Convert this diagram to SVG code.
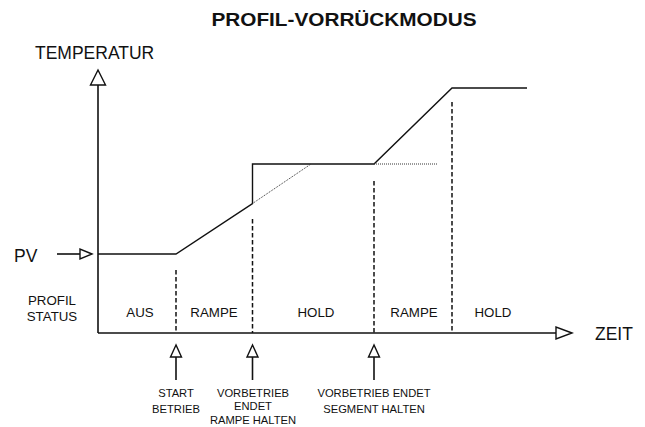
<svg xmlns="http://www.w3.org/2000/svg" width="645" height="427" viewBox="0 0 645 427">
<style>
text{font-family:"Liberation Sans",Arial,sans-serif;fill:#111}
.ax{stroke:#111;stroke-width:1.6;fill:none}
.pr{stroke:#111;stroke-width:1.4;fill:none}
.dot{stroke:#333;stroke-width:1;fill:none;stroke-dasharray:1 1}
.dash{stroke:#111;stroke-width:1.5;fill:none;stroke-dasharray:4.5 2.5}
.head{fill:#fff;stroke:#111;stroke-width:1.4}
.big{font-size:17.5px}
.st{font-size:13.3px;text-anchor:middle}
.ev{font-size:11.2px;text-anchor:middle}
</style>
<rect width="645" height="427" fill="#fff"/>
<text x="344" y="26" font-size="19" font-weight="bold" text-anchor="middle" textLength="265" lengthAdjust="spacingAndGlyphs">PROFIL-VORRÜCKMODUS</text>

<g id="axes">
<line class="ax" x1="98" y1="84" x2="98" y2="333"/>
<polygon class="head" points="98,70 90.5,85 105.5,85"/>
<line class="ax" x1="98" y1="333" x2="557" y2="333"/>
<polygon class="head" points="572,333 556,327 556,339"/>
<text class="big" x="35" y="59">TEMPERATUR</text>
<text class="big" x="595" y="340">ZEIT</text>
</g>

<g id="pv">
<text class="big" x="14" y="262">PV</text>
<line class="ax" x1="57" y1="254" x2="81" y2="254"/>
<polygon class="head" points="92,254 80,249 80,259"/>
</g>

<g id="profile">
<polyline class="pr" points="98,254 176,254 252.5,203.5 252.5,164 374,164 452,88 527,88"/>
<line class="dot" x1="252.5" y1="203.5" x2="311" y2="164"/>
<line class="dot" x1="374" y1="164" x2="437" y2="164"/>
</g>

<g id="dividers">
<line class="dash" x1="176" y1="270" x2="176" y2="333"/>
<line class="dash" x1="252.5" y1="219" x2="252.5" y2="333"/>
<line class="dash" x1="374" y1="181" x2="374" y2="333"/>
<line class="dash" x1="452" y1="102" x2="452" y2="333"/>
</g>

<g id="status">
<text class="st" x="52" y="305">PROFIL</text>
<text class="st" x="52" y="321">STATUS</text>
<text class="st" x="140" y="317">AUS</text>
<text class="st" x="214" y="317">RAMPE</text>
<text class="st" x="316" y="317">HOLD</text>
<text class="st" x="414" y="317">RAMPE</text>
<text class="st" x="493" y="317">HOLD</text>
</g>

<g id="event-start">
<line class="ax" x1="176" y1="356" x2="176" y2="380"/>
<polygon class="head" points="176,345 170.5,357 181.5,357"/>
<text class="ev" x="176" y="397">START</text>
<text class="ev" x="176" y="413">BETRIEB</text>
</g>
<g id="event-ramp">
<line class="ax" x1="252.5" y1="356" x2="252.5" y2="380"/>
<polygon class="head" points="252.5,345 247,357 258,357"/>
<text class="ev" x="253" y="397">VORBETRIEB</text>
<text class="ev" x="253" y="410">ENDET</text>
<text class="ev" x="253" y="424">RAMPE HALTEN</text>
</g>
<g id="event-seg">
<line class="ax" x1="374" y1="356" x2="374" y2="380"/>
<polygon class="head" points="374,345 368.5,357 379.5,357"/>
<text class="ev" x="374" y="397">VORBETRIEB ENDET</text>
<text class="ev" x="374" y="413">SEGMENT HALTEN</text>
</g>
</svg>
